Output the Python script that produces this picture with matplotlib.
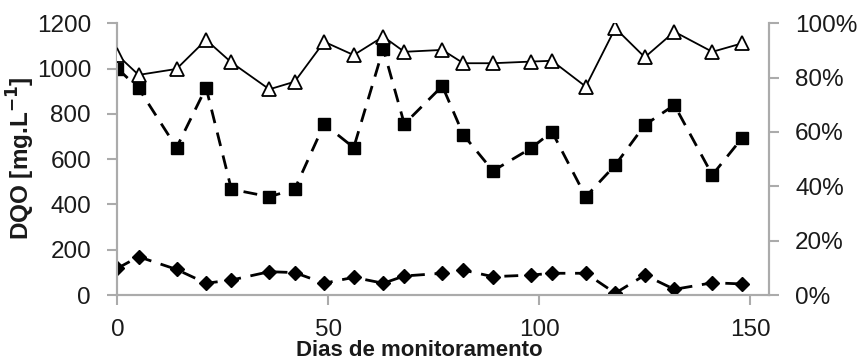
import matplotlib
matplotlib.use("Agg")
import matplotlib.pyplot as plt
from matplotlib.ticker import FuncFormatter

plt.rcParams['font.family'] = ['Liberation Sans', 'DejaVu Sans']

# Sampling days
dias = [0, 5, 14, 21, 27, 36, 42, 49, 56, 63, 68, 77, 82, 89, 98, 103,
        111, 118, 125, 132, 141, 148]

# Influent COD (mg/L)
dqo_afluente = [1000, 913, 651, 916, 467, 434, 467, 755, 651, 1088, 755, 923,
                707, 548, 648, 721, 434, 574, 751, 839, 530, 692]

# Effluent COD (mg/L)
dqo_efluente = [118, 169, 113, 52, 66, 103, 99, 52, 78, 52, 84, 96,
                110, 81, 88, 96, 96, 8, 88, 25, 54, 49]

# Removal efficiency (%)
eficiencia = [88.3, 81.0, 83.2, 93.9, 85.6, 75.7, 78.5, 93.2, 88.3, 95.1, 89.5,
              90.2, 85.3, 85.3, 85.9, 86.2, 76.7, 98.2, 87.5, 96.9, 89.5, 92.6]

y_ticks = [0, 200, 400, 600, 800, 1000, 1200]
pct_ticks = [0, 20, 40, 60, 80, 100]
x_ticks = [0, 50, 100, 150]

fig = plt.figure(figsize=(8.6, 3.61), dpi=100)
ax = fig.add_axes([0.1366, 0.1828, 0.894 - 0.1366, 0.9355 - 0.1828])
ax2 = ax.twinx()

spine_c = '#ababab'
fs = 17.5

ax.plot(dias, dqo_afluente, color='black', linestyle=(0, (5, 3.5)), linewidth=2.0,
        marker='s', markersize=8.5, zorder=3)
ax.plot(dias, dqo_efluente, color='black', linestyle=(0, (5, 3.5)), linewidth=2.0,
        marker='D', markersize=7, zorder=3)
ax2.plot(dias, eficiencia, color='black', linestyle='-', linewidth=1.3,
         marker='^', markersize=9.5, markerfacecolor='white', markeredgecolor='black',
         markeredgewidth=1.3, zorder=4)

ax.set_xlim(0, 154.4)
ax.set_ylim(0, 1200)
ax2.set_ylim(0, 100)

ax.set_xticks(x_ticks)
ax.set_yticks(y_ticks)
ax2.set_yticks(pct_ticks)
ax2.yaxis.set_major_formatter(FuncFormatter(lambda v, p: f"{v:.0f}%"))

for a in (ax, ax2):
    for s in a.spines.values():
        s.set_color(spine_c)
        s.set_linewidth(1.5)
    a.spines['top'].set_visible(False)
    a.tick_params(colors=spine_c, width=1.5, length=7, labelsize=fs,
                  labelcolor='#1a1a1a')

ax.tick_params(axis='y', pad=12)
ax.tick_params(axis='x', pad=10)
ax2.tick_params(axis='y', pad=12)

ax.set_ylabel('DQO [mg.L$^{\\mathbf{-1}}$]', fontsize=17.5, fontweight='bold',
              color='#1a1a1a')
ax.yaxis.set_label_coords(-0.123, 0.503)
ax.set_xlabel('Dias de monitoramento', fontsize=16, fontweight='bold',
              color='#1a1a1a')
ax.xaxis.set_label_coords(0.463, -0.165)

ax2.set_zorder(ax.get_zorder() + 1)
ax2.patch.set_visible(False)

fig.savefig('out.png', dpi=100)
